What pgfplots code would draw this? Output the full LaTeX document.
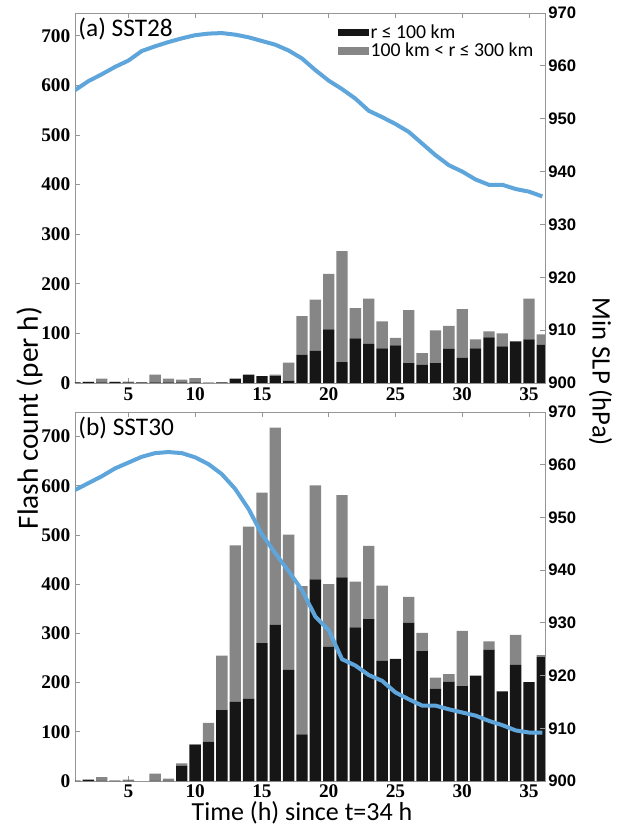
\documentclass[border=0pt]{standalone}
\usepackage{pgfplots}
\usepackage{pgfplotstable}
\pgfplotsset{compat=1.18}
\usepackage{fontspec}
\setmainfont{Carlito}
\newfontfamily\timesfont{Liberation Serif}
\newfontfamily\arialfont{Liberation Sans}
\definecolor{slpblue}{RGB}{93,165,218}
\definecolor{bardark}{RGB}{22,22,22}
\definecolor{bargray}{RGB}{134,134,134}
\definecolor{axgray}{RGB}{150,150,150}

% hour, flashes r<=100 km, flashes 100<r<=300 km
\pgfplotstableread{
k dark outer
1 1 1
2 2 1
3 1 8
4 2 1
5 1 2
6 1 0
7 1 16
8 1 8
9 1 6
10 1 9
11 0 1
12 1 0
13 9 0
14 17 0
15 14 0
16 14 3
17 5 36
18 57 78
19 65 103
20 108 112
21 42 224
22 90 61
23 79 91
24 70 54
25 76 15
26 40 107
27 37 23
28 40 66
29 69 46
30 51 98
31 70 18
32 92 12
33 74 26
34 84 0
35 88 82
36 77 21
}\topbars

\pgfplotstableread{
k dark outer
1 1 0
2 3 0
3 1 7
4 1 0
5 1 2
6 0 0
7 1 14
8 1 4
9 31 5
10 73 2
11 80 38
12 144 111
13 161 318
14 167 350
15 280 306
16 318 400
17 226 275
18 95 301
19 410 191
20 273 127
21 414 167
22 312 93
23 329 149
24 244 153
25 248 0
26 322 52
27 264 37
28 188 22
29 202 15
30 193 112
31 214 0
32 267 17
33 182 0
34 236 61
35 201 0
36 252 4
}\botbars

\pgfplotstableread{
k slp
1 955.4
2 957.1
3 958.4
4 959.8
5 961.0
6 962.8
7 963.7
8 964.5
9 965.2
10 965.8
11 966.1
12 966.2
13 965.9
14 965.4
15 964.7
16 964.0
17 962.9
18 961.4
19 959.2
20 957.2
21 955.6
22 953.8
23 951.5
24 950.3
25 949.0
26 947.5
27 945.3
28 943.1
29 941.2
30 940.0
31 938.5
32 937.5
33 937.5
34 936.7
35 936.2
36 935.3
}\topslp

\pgfplotstableread{
k slp
1 955.2
2 956.5
3 957.8
4 959.3
5 960.4
6 961.5
7 962.2
8 962.4
9 962.2
10 961.4
11 960.1
12 958.2
13 955.4
14 951.6
15 946.8
16 943.2
17 939.8
18 936.2
19 931.2
20 928.6
21 923.1
22 921.9
23 920.1
24 919.0
25 916.8
26 915.5
27 914.3
28 914.3
29 913.6
30 913.0
31 912.4
32 911.4
33 910.6
34 909.6
35 909.2
36 909.2
}\botslp

\pgfplotsset{
  base/.style={
    width=352.5pt, scale only axis,
    xmin=1, xmax=36.2,
    xtick={5,10,...,35},
    tick align=inside,
    axis line style={draw=axgray, line width=0.6pt},
    tick style={draw=axgray, line width=0.6pt},
    major tick length=4pt,
    /pgf/number format/assume math mode=true,
  },
  barax/.style={
    base,
    ymin=0,
    ytick={0,100,...,700},
    ytick pos=left,
    xtick pos=both,
    xticklabel pos=lower,
    ticklabel style={font=\timesfont\bfseries\fontsize{14.5}{14.5}\selectfont},
    ybar stacked, bar width=0.85,
  },
  slpax/.style={
    base,
    axis y line*=right, axis x line=none,
    ymin=900, ymax=970,
    ytick={900,910,...,970},
    ytick pos=right,
    yticklabel style={font=\arialfont\bfseries\fontsize{12.5}{12.5}\selectfont, xshift=-1pt},
  },
}

\begin{document}
\begin{tikzpicture}
% ---------------- (a) SST28 ----------------
\begin{axis}[barax, height=277.5pt, ymax=746, at={(0pt,298.5pt)}, anchor=south west,
  ylabel={Flash count (per h)},
  ylabel style={at={(axis description cs:-0.097,-0.095)}, anchor=center, font=\fontsize{22}{22}\selectfont},
  legend style={draw=none, fill=none, at={(0.556,0.978)}, anchor=north west,
    font=\fontsize{14.8}{14.8}\selectfont, row sep=-1pt, inner sep=1pt,
    nodes={inner sep=1.5pt}},
  legend cell align=left]
\addplot[fill=bardark, draw=none,
  legend image code/.code={\fill[bardark] (0pt,-2.7pt) rectangle (23pt,2.7pt);}]
  table[x=k, y=dark]{\topbars};
\addlegendentry{r ≤ 100 km}
\addplot[fill=bargray, draw=none,
  legend image code/.code={\fill[bargray] (0pt,-2.7pt) rectangle (23pt,2.7pt);}]
  table[x=k, y=outer]{\topbars};
\addlegendentry{100 km < r ≤ 300 km}
\node[anchor=north west, font=\fontsize{19}{19}\selectfont, inner sep=1pt] at (rel axis cs:0.004,0.99) {(a) SST28};
\end{axis}
\begin{axis}[slpax, height=277.5pt, at={(0pt,298.5pt)}, anchor=south west,
  ylabel={Min SLP (hPa)},
  ylabel style={at={(axis description cs:1.118,0.03)}, anchor=center, rotate=180, font=\fontsize{20}{20}\selectfont}]
\addplot[slpblue, line width=3pt, no marks] table[x=k, y=slp]{\topslp};
\end{axis}

% ---------------- (b) SST30 ----------------
\begin{axis}[barax, height=276.75pt, ymax=750, at={(0pt,0pt)}, anchor=south west,
  xticklabel style={inner sep=0pt, yshift=-2.5pt},
  xlabel={Time (h) since t=34 h},
  xlabel style={font=\fontsize{19.5}{19.5}\selectfont, inner sep=0pt, anchor=north, at={(axis description cs:0.483,0)}, yshift=-15.5pt}]
\addplot[fill=bardark, draw=none] table[x=k, y=dark]{\botbars};
\addplot[fill=bargray, draw=none] table[x=k, y=outer]{\botbars};
\node[anchor=north west, font=\fontsize{19}{19}\selectfont, inner sep=1pt] at (rel axis cs:0.004,0.99) {(b) SST30};
\end{axis}
\begin{axis}[slpax, height=276.75pt, at={(0pt,0pt)}, anchor=south west]
\addplot[slpblue, line width=3pt, no marks] table[x=k, y=slp]{\botslp};
\end{axis}

\pgfresetboundingbox
\path[use as bounding box] (-56.25pt,-36.75pt) rectangle (407.25pt,585.75pt);
\end{tikzpicture}
\end{document}
